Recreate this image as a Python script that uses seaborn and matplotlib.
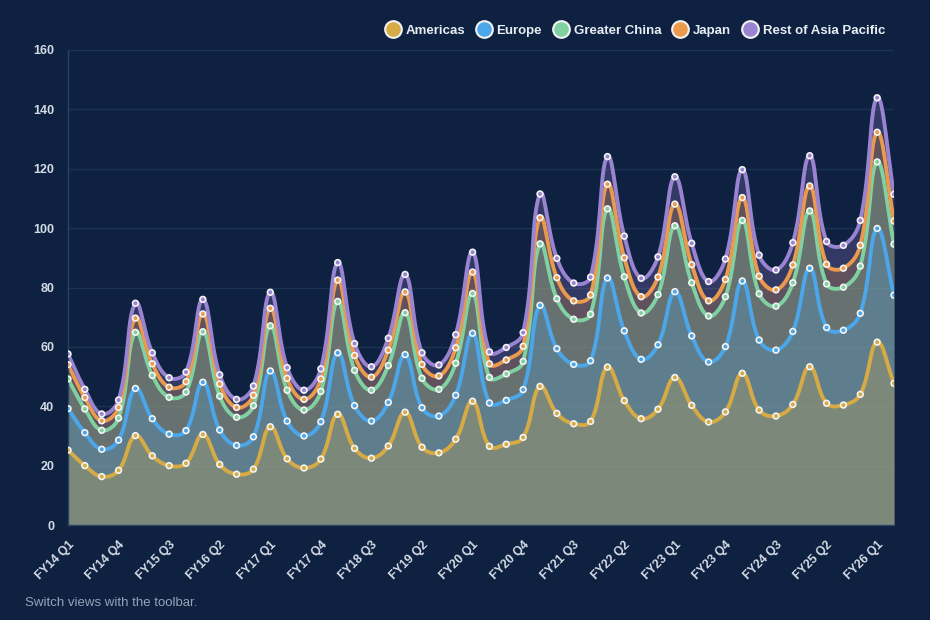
import numpy as np
import pandas as pd
import matplotlib
matplotlib.use("Agg")
import matplotlib.pyplot as plt
from matplotlib.lines import Line2D
import seaborn as sns

# quarterly revenue by region (billions), FY14 Q1 .. FY26 Q2
quarters = [f"FY{y} Q{q}" for y in range(14, 27) for q in range(1, 5)][:50]

americas = [25.2, 20.0, 16.3, 18.4, 30.1, 23.3, 20.0, 20.8, 30.5, 20.4,
            17.1, 18.8, 33.1, 22.3, 19.2, 22.2, 37.3, 25.8, 22.5, 26.6,
            38.0, 26.2, 24.3, 28.9, 41.7, 26.5, 27.2, 29.5, 46.7, 37.6,
            34.1, 34.9, 53.2, 41.9, 35.8, 39.0, 49.7, 40.3, 34.7, 38.1,
            51.1, 38.7, 36.7, 40.6, 53.3, 41.0, 40.4, 44.0, 61.6, 47.7]
europe = [14.0, 11.1, 9.2, 10.2, 15.9, 12.5, 10.6, 11.0, 17.6, 11.6,
          9.7, 10.9, 18.8, 12.7, 10.8, 12.6, 20.7, 14.4, 12.5, 14.7,
          19.4, 13.3, 12.4, 14.8, 22.9, 14.6, 14.8, 16.1, 27.3, 21.8,
          20.0, 20.4, 30.0, 23.5, 20.0, 21.7, 28.9, 23.4, 20.2, 22.0,
          31.1, 23.6, 22.2, 24.6, 33.2, 25.5, 25.2, 27.3, 38.3, 29.7]
greater_china = [10.0, 8.0, 6.4, 7.4, 18.9, 14.6, 12.4, 13.0, 17.0, 11.4,
                 9.5, 10.5, 15.2, 10.4, 8.7, 10.2, 17.3, 11.9, 10.4, 12.4,
                 14.1, 9.9, 9.0, 10.8, 13.4, 8.6, 8.9, 9.5, 20.7, 16.8,
                 15.2, 15.7, 23.3, 18.2, 15.6, 16.9, 22.2, 17.9, 15.5, 16.8,
                 20.4, 15.6, 14.8, 16.4, 19.3, 14.7, 14.5, 15.9, 22.4, 17.2]
japan = [4.8, 3.8, 3.2, 3.6, 4.8, 3.9, 3.4, 3.5, 6.0, 4.1,
         3.3, 3.5, 5.9, 4.0, 3.6, 4.2, 7.2, 5.0, 4.4, 5.2,
         7.0, 4.7, 4.5, 5.2, 7.2, 4.6, 4.7, 5.1, 8.8, 7.1,
         6.2, 6.5, 8.3, 6.4, 5.5, 5.9, 7.3, 6.1, 5.1, 5.8,
         7.7, 5.9, 5.5, 6.0, 8.4, 6.6, 6.4, 7.0, 10.0, 7.8]
rest_of_apac = [3.6, 2.8, 2.3, 2.5, 5.0, 3.7, 3.2, 3.2, 4.9, 3.1,
                2.7, 3.1, 5.4, 3.6, 3.1, 3.4, 5.9, 4.0, 3.5, 4.0,
                5.9, 3.9, 3.7, 4.4, 6.7, 4.0, 4.2, 4.6, 8.0, 6.5,
                6.0, 6.0, 9.3, 7.3, 6.2, 6.8, 9.2, 7.2, 6.5, 6.9,
                9.4, 7.1, 6.7, 7.5, 10.2, 7.7, 7.7, 8.4, 11.6, 9.0]

regions = ["Americas", "Europe", "Greater China", "Japan", "Rest of Asia Pacific"]
colors = ["#d6aa45", "#4ba6ea", "#7fd1a2", "#e99a4d", "#9a84d1"]

BG = "#0e2140"
GRID = "#1d3352"
TXT = "#d4dbe6"


def spline(xp, yp, tension=0.4, steps=16):
    # bezier smoothing like chart.js, worked out in pixel units
    sx, sy = 16.87, 2.969
    px = np.asarray(xp, float) * sx
    py = np.asarray(yp, float) * sy
    n = len(px)
    cprev = np.zeros((n, 2))
    cnext = np.zeros((n, 2))
    for i in range(n):
        a, b = max(i - 1, 0), min(i + 1, n - 1)
        d01 = np.hypot(px[i] - px[a], py[i] - py[a])
        d12 = np.hypot(px[b] - px[i], py[b] - py[i])
        tot = d01 + d12
        fa = tension * (d01 / tot if tot else 0)
        fb = tension * (d12 / tot if tot else 0)
        dx, dy = px[b] - px[a], py[b] - py[a]
        cprev[i] = (px[i] - fa * dx, py[i] - fa * dy)
        cnext[i] = (px[i] + fb * dx, py[i] + fb * dy)
    t = np.linspace(0, 1, steps, endpoint=False)[:, None]
    out = []
    for i in range(n - 1):
        p0 = np.array([px[i], py[i]])
        p3 = np.array([px[i + 1], py[i + 1]])
        seg = ((1 - t) ** 3 * p0 + 3 * (1 - t) ** 2 * t * cnext[i]
               + 3 * (1 - t) * t ** 2 * cprev[i + 1] + t ** 3 * p3)
        out.append(seg)
    out.append(np.array([[px[-1], py[-1]]]))
    out = np.vstack(out)
    return out[:, 0] / sx, out[:, 1] / sy


def main():
    sns.set_theme(style="dark", rc={"axes.facecolor": BG, "figure.facecolor": BG})
    plt.rcParams["font.family"] = ["Liberation Sans", "DejaVu Sans"]

    values = np.array([americas, europe, greater_china, japan, rest_of_apac])
    stacked = np.cumsum(values, axis=0)
    x = np.arange(len(quarters))

    pts = []
    dense = []
    for name, ys in zip(regions, stacked):
        sxv, syv = spline(x, ys)
        dense.append(pd.DataFrame({"x": sxv, "y": syv, "region": name}))
        pts.append(pd.DataFrame({"x": x, "y": ys, "region": name}))
    dense = pd.concat(dense, ignore_index=True)
    pts = pd.concat(pts, ignore_index=True)

    fig = plt.figure(figsize=(9.3, 6.2), dpi=100)
    ax = fig.add_axes([68 / 930, 95 / 620, 826 / 930, 475 / 620])

    # fills go to zero, top series first so alpha stacks up
    for name, c in reversed(list(zip(regions, colors))):
        d = dense[dense.region == name]
        ax.fill_between(d.x, d.y, 0, color=c, alpha=0.25, lw=0)

    pal = dict(zip(regions, colors))
    sns.lineplot(data=dense, x="x", y="y", hue="region", palette=pal, sort=False,
                 estimator=None, lw=2.8, legend=False, ax=ax)
    sns.scatterplot(data=pts, x="x", y="y", hue="region", palette=pal, s=17,
                    edgecolor="#f4f4f4", linewidth=1.2, legend=False, ax=ax, zorder=5)

    ax.set_xlim(0, len(quarters) - 1)
    ax.set_ylim(0, 160)
    ax.set_yticks(range(0, 161, 20))
    ax.set_xticks(x[::3])
    ax.set_xticklabels(quarters[::3], rotation=45, ha="right", va="top",
                       rotation_mode="anchor")
    ax.set_xlabel("")
    ax.set_ylabel("")
    ax.yaxis.grid(True, color=GRID, lw=1)
    ax.xaxis.grid(False)
    for s in ["top", "right"]:
        ax.spines[s].set_visible(False)
    for s in ["left", "bottom"]:
        ax.spines[s].set_color("#2a4262")
        ax.spines[s].set_linewidth(1)
    ax.tick_params(axis="y", length=7, width=1, color=GRID, pad=3,
                   labelsize=9, labelcolor=TXT)
    ax.tick_params(axis="x", length=0, pad=10, labelsize=8.8, labelcolor=TXT)
    for lab in ax.get_yticklabels() + ax.get_xticklabels():
        lab.set_fontweight("bold")

    handles = [Line2D([], [], marker="o", ls="", markersize=12, markerfacecolor=c,
                      markeredgecolor="#f2f2f2", markeredgewidth=1.5) for c in colors]
    fig.legend(handles, regions, loc="center right", bbox_to_anchor=(897 / 930, 1 - 31 / 620),
               ncol=5, frameon=False, handletextpad=0.45, columnspacing=0.95,
               handlelength=1.0, prop={"weight": "bold", "size": 9.5}, labelcolor="#e8edf4")

    fig.text(25 / 930, 1 - 603 / 620, "Switch views with the toolbar.", color="#94a3b8",
             fontsize=9.5, va="center", ha="left")

    fig.savefig("out.png", dpi=100, facecolor=BG)


if __name__ == "__main__":
    main()
